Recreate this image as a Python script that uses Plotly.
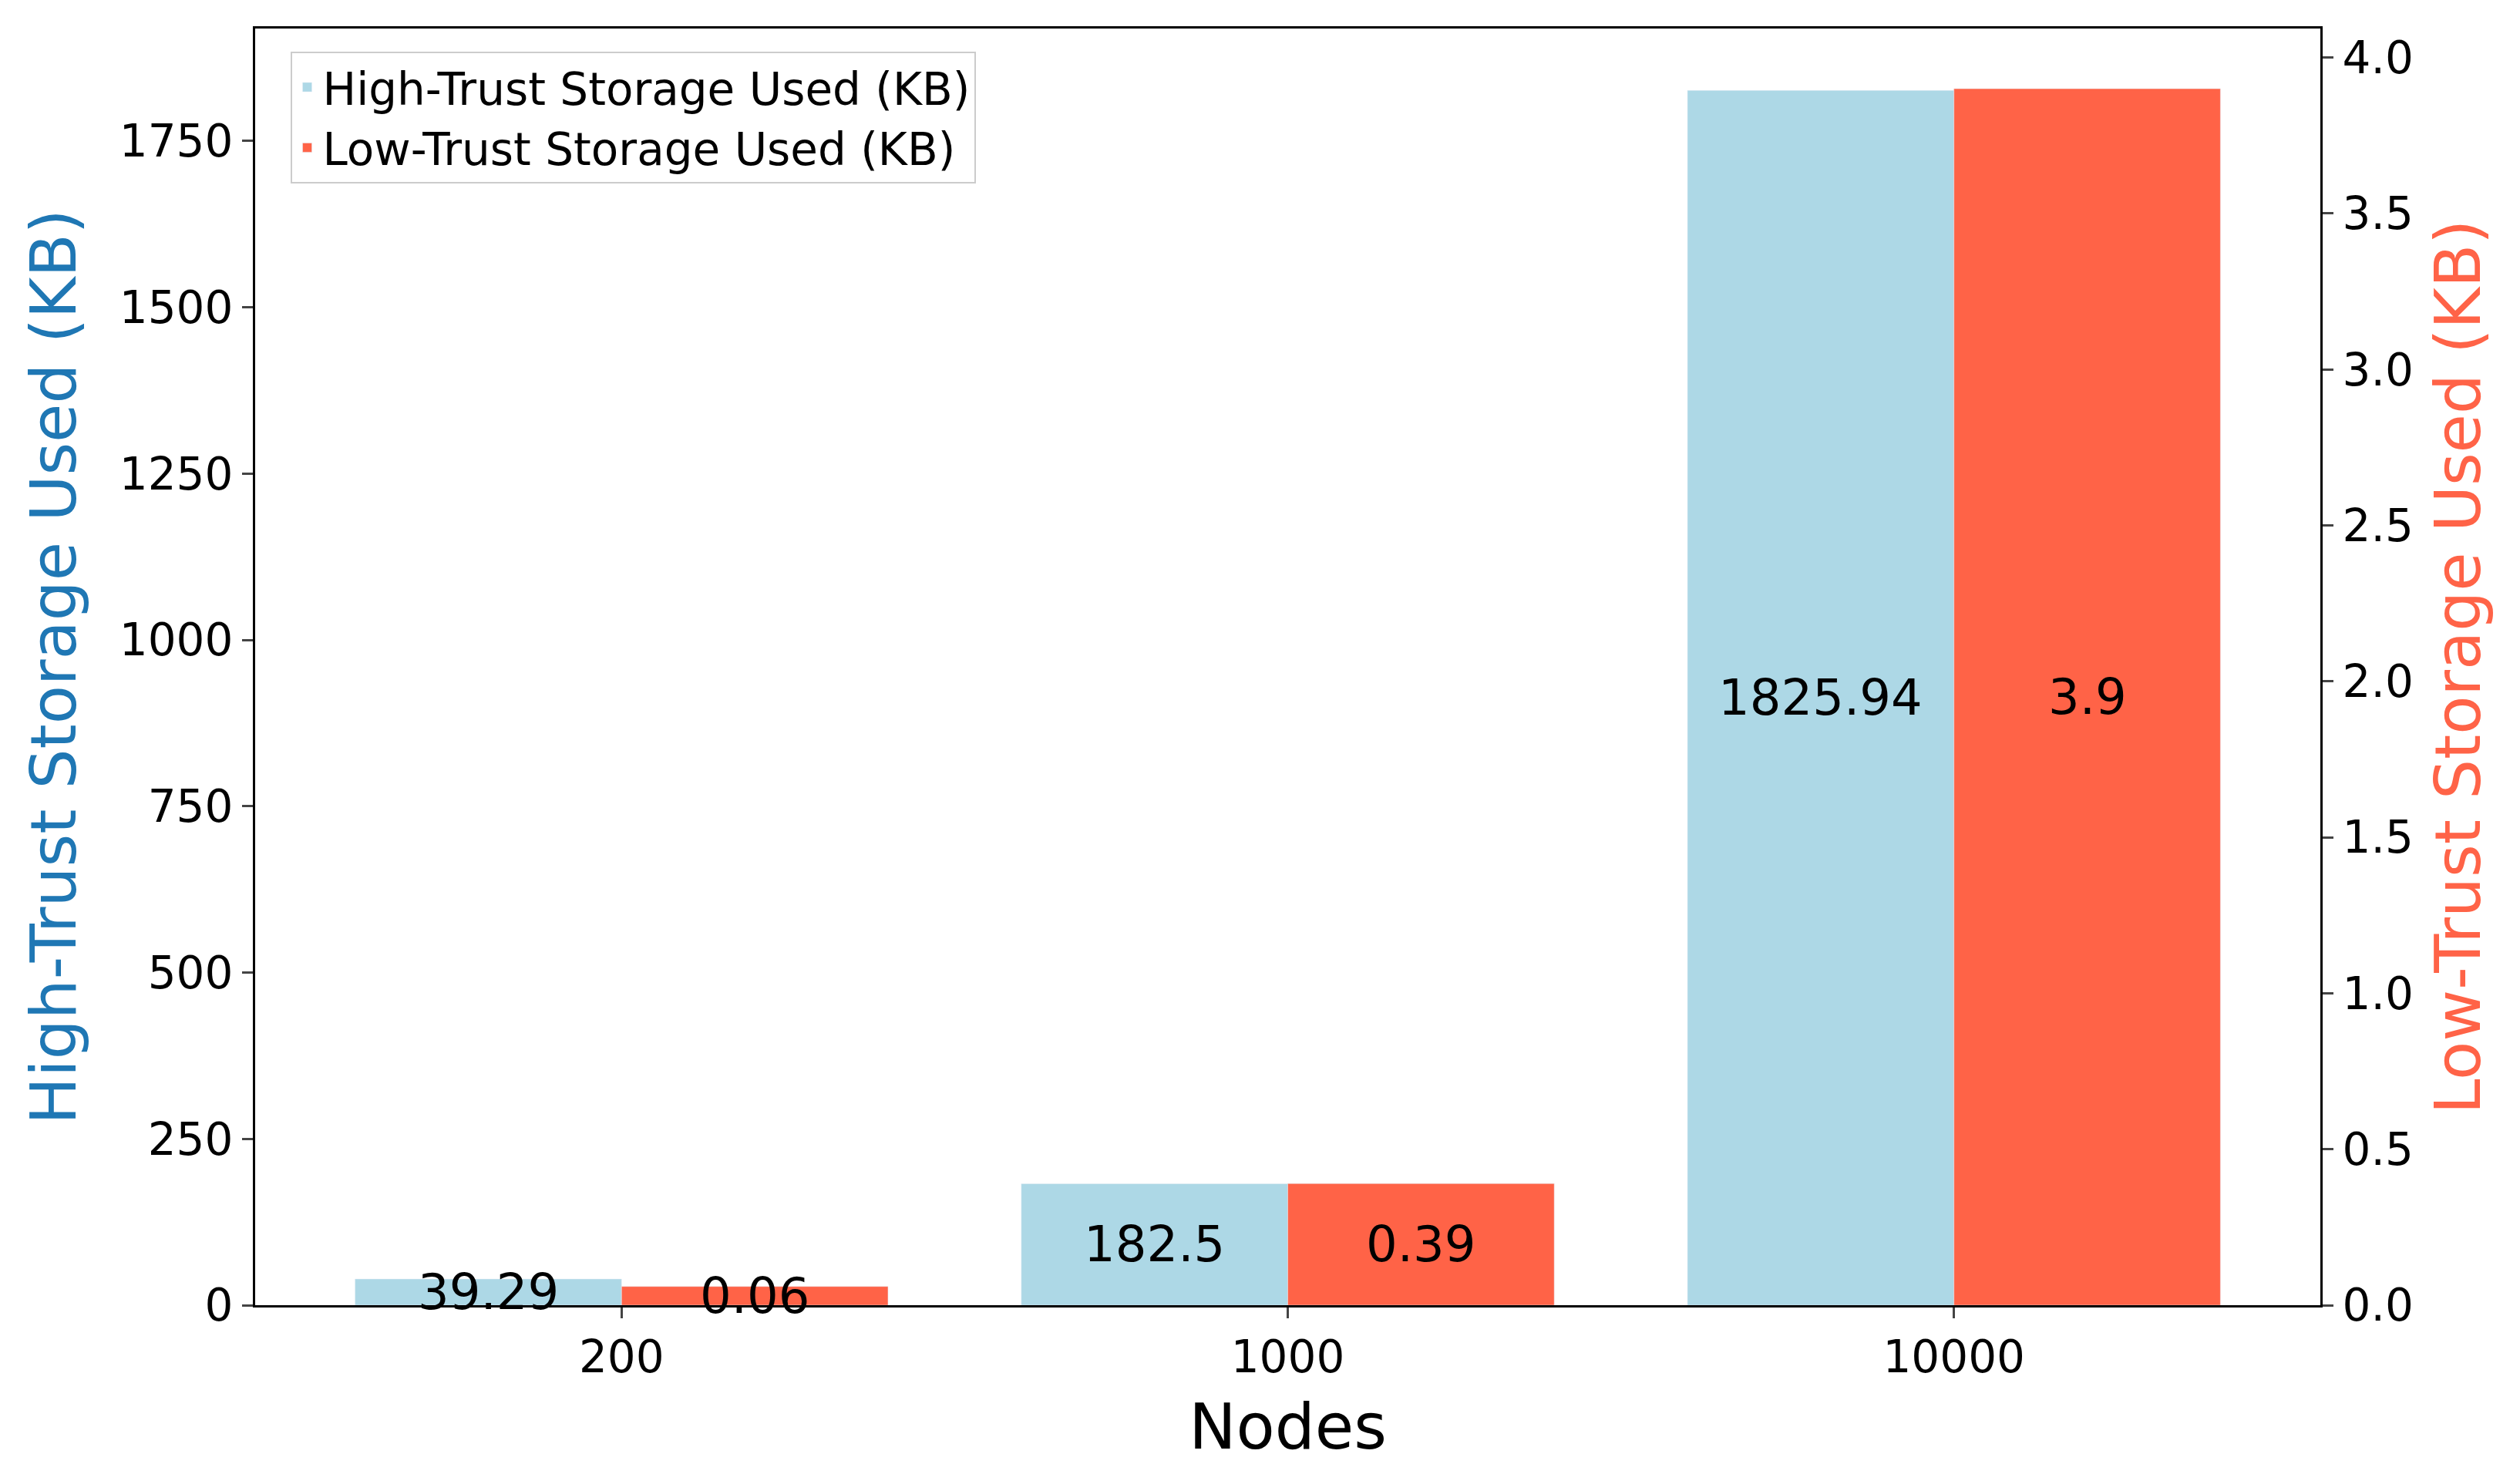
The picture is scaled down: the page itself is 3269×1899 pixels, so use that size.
import plotly.graph_objects as go

nodes = ["200", "1000", "10000"]
high_trust = [39.29, 182.5, 1825.94]
low_trust = [0.06, 0.39, 3.9]
high_labels = ["39.29", "182.5", "1825.94"]
low_labels = ["0.06", "0.39", "3.9"]

pos = list(range(len(nodes)))
F = "DejaVu Sans"
fig = go.Figure()
fig.add_trace(go.Bar(x=pos, y=high_trust, offset=-0.4, width=0.4, marker_color="#ADD8E6",
                     name="High-Trust Storage Used (KB)", yaxis="y"))
fig.add_trace(go.Bar(x=pos, y=low_trust, offset=0, width=0.4, marker_color="#FF6347",
                     name="Low-Trust Storage Used (KB)", yaxis="y2"))
ann = []
for p, v, t in zip(pos, high_trust, high_labels):
    ann.append(dict(x=p - 0.2, y=v / 2, xref="x", yref="y", text=t, showarrow=False,
                    font=dict(family=F, size=64, color="black")))
for p, v, t in zip(pos, low_trust, low_labels):
    ann.append(dict(x=p + 0.2, y=v / 2, xref="x", yref="y2", text=t, showarrow=False,
                    font=dict(family=F, size=64, color="black")))
fig.update_layout(
    width=3269, height=1899, plot_bgcolor="white", paper_bgcolor="white",
    margin=dict(l=323, r=267, t=29, b=214), barmode="overlay",
    font=dict(family=F, size=58, color="black"),
    annotations=ann,
    xaxis=dict(range=[-0.55, 2.55], tickvals=pos, ticktext=nodes, showline=True, mirror=True,
               linecolor="black", linewidth=3, ticks="outside", ticklen=14, tickwidth=3,
               title=dict(text="Nodes", font=dict(size=82), standoff=30), showgrid=False, zeroline=False),
    yaxis=dict(range=[0, 1919], tickvals=[0, 250, 500, 750, 1000, 1250, 1500, 1750],
               showline=True, linecolor="black", linewidth=3, ticks="outside", ticklen=14, tickwidth=3,
               title=dict(text="High-Trust Storage Used (KB)", font=dict(size=82, color="#1f77b4"), standoff=30),
               showgrid=False, zeroline=False),
    yaxis2=dict(range=[0, 4.093], overlaying="y", side="right", tickvals=[0, 0.5, 1, 1.5, 2, 2.5, 3, 3.5, 4],
                ticktext=["0.0", "0.5", "1.0", "1.5", "2.0", "2.5", "3.0", "3.5", "4.0"],
                showline=True, linecolor="black", linewidth=3, ticks="outside", ticklen=14, tickwidth=3,
                title=dict(text="Low-Trust Storage Used (KB)", font=dict(size=82, color="#FF6347"), standoff=30),
                showgrid=False, zeroline=False),
    legend=dict(x=0.017, y=0.982, xanchor="left", yanchor="top", bgcolor="white",
                bordercolor="#cccccc", borderwidth=2, font=dict(size=58)),
)
fig.write_html("out.html")
